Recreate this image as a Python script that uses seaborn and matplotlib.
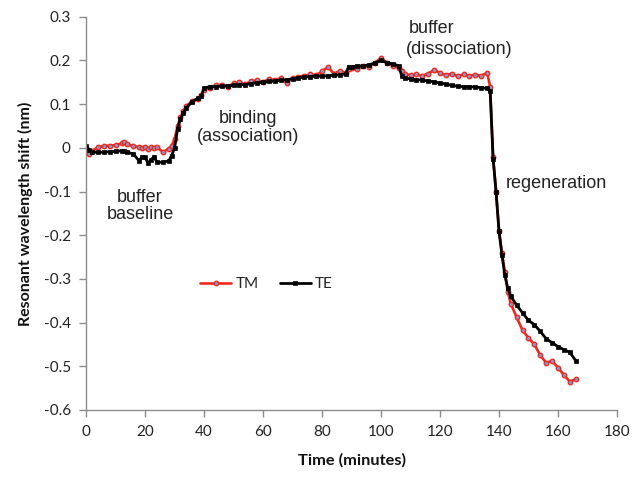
import matplotlib
matplotlib.use("Agg")
import matplotlib.pyplot as plt
import seaborn as sns
import pandas as pd
from matplotlib.ticker import FuncFormatter

time_min = [0, 1, 2, 4, 6, 8, 10, 12, 13, 14, 16, 18, 19, 20, 21, 22, 23, 24, 26, 28,
            29, 30, 31, 32, 33, 34, 36, 38, 39, 40, 42, 44, 46, 48, 50, 52, 54, 56, 58, 60,
            62, 64, 66, 68, 70, 72, 74, 76, 78, 80, 82, 84, 86, 88, 89, 90, 92, 94, 96, 98,
            100, 102, 104, 106, 107, 108, 110, 112, 114, 116, 118, 120, 122, 124, 126, 128, 130, 132, 134, 136,
            137, 138, 139, 140, 141, 142, 143, 144, 146, 148, 150, 152, 154, 156, 158, 160, 162, 164, 166]

te_shift = [0.005, -0.005, -0.010, -0.010, -0.010, -0.009, -0.008, -0.007, -0.008, -0.010,
            -0.014, -0.030, -0.020, -0.022, -0.035, -0.028, -0.020, -0.033, -0.033, -0.030,
            -0.018, 0.000, 0.043, 0.066, 0.080, 0.092, 0.106, 0.114, 0.118, 0.137,
            0.140, 0.140, 0.141, 0.142, 0.143, 0.144, 0.145, 0.147, 0.149, 0.150,
            0.152, 0.153, 0.155, 0.156, 0.158, 0.160, 0.162, 0.163, 0.164, 0.164,
            0.165, 0.166, 0.167, 0.169, 0.186, 0.186, 0.187, 0.188, 0.190, 0.195,
            0.200, 0.195, 0.192, 0.188, 0.165, 0.160, 0.158, 0.156, 0.155, 0.153,
            0.151, 0.148, 0.146, 0.143, 0.141, 0.140, 0.140, 0.139, 0.138, 0.136,
            0.130, -0.025, -0.100, -0.190, -0.245, -0.292, -0.322, -0.340, -0.360, -0.378,
            -0.395, -0.405, -0.420, -0.437, -0.446, -0.455, -0.462, -0.468, -0.487]

tm_shift = [0.000, -0.014, -0.008, 0.002, 0.004, 0.005, 0.006, 0.010, 0.013, 0.008,
            0.004, 0.002, 0.000, 0.003, -0.002, 0.002, 0.000, 0.003, -0.010, -0.002,
            0.005, 0.020, 0.050, 0.070, 0.085, 0.095, 0.108, 0.112, 0.122, 0.132,
            0.138, 0.143, 0.145, 0.140, 0.148, 0.150, 0.146, 0.152, 0.155, 0.150,
            0.158, 0.155, 0.160, 0.148, 0.160, 0.163, 0.165, 0.168, 0.166, 0.175,
            0.185, 0.170, 0.176, 0.172, 0.180, 0.183, 0.180, 0.188, 0.186, 0.195,
            0.206, 0.195, 0.188, 0.183, 0.175, 0.170, 0.166, 0.168, 0.165, 0.170,
            0.178, 0.172, 0.166, 0.170, 0.164, 0.168, 0.165, 0.167, 0.165, 0.172,
            0.140, -0.020, -0.100, -0.190, -0.240, -0.285, -0.330, -0.357, -0.388, -0.418,
            -0.435, -0.450, -0.475, -0.492, -0.488, -0.503, -0.520, -0.535, -0.530]

x_ticks = [0, 20, 40, 60, 80, 100, 120, 140, 160, 180]
y_ticks = [-0.6, -0.5, -0.4, -0.3, -0.2, -0.1, 0, 0.1, 0.2, 0.3]

sns.set_theme(style="white")
plt.rcParams['font.family'] = ['Lato', 'DejaVu Sans']

df_tm = pd.DataFrame({"t": time_min, "v": tm_shift})
df_te = pd.DataFrame({"t": time_min, "v": te_shift})

fig = plt.figure(figsize=(6.38, 4.8), dpi=100)
ax = fig.add_axes([0.135, 0.146, 0.832, 0.819])

sns.lineplot(data=df_tm, x="t", y="v", ax=ax, color="#f0281e", linewidth=1.9,
             marker="o", markersize=3.2, markerfacecolor="#7f9ccc",
             markeredgecolor="#f0281e", markeredgewidth=1.0, label="TM")
sns.lineplot(data=df_te, x="t", y="v", ax=ax, color="black", linewidth=2.0,
             marker="s", markersize=3.0, markerfacecolor="black",
             markeredgecolor="black", markeredgewidth=0.5, label="TE")

ax.set_xlim(x_ticks[0], x_ticks[-1])
ax.set_ylim(y_ticks[0], y_ticks[-1])
ax.set_xticks(x_ticks)
ax.set_yticks(y_ticks)
ax.yaxis.set_major_formatter(FuncFormatter(lambda v, p: ("%g" % round(v, 1)).replace("\u2212", "-")))
ax.xaxis.set_major_formatter(FuncFormatter(lambda v, p: "%d" % v))

for s in ["top", "right"]:
    ax.spines[s].set_visible(False)
for s in ["left", "bottom"]:
    ax.spines[s].set_color("#8c8c8c")
    ax.spines[s].set_linewidth(1.0)
ax.tick_params(axis="both", which="major", direction="out", length=5, width=1,
               color="#8c8c8c", labelsize=11, labelcolor="#222222", pad=6, bottom=True, left=True)

ax.set_xlabel("Time (minutes)", fontsize=11.8, fontweight="bold", color="#111111", labelpad=10)
ax.set_ylabel("Resonant wavelength shift (nm)", fontsize=11.5, fontweight="bold", color="#111111", labelpad=8)

txt_kw = dict(fontsize=13, color="#222222", family=["Liberation Sans", "DejaVu Sans"])
ax.text(18.3, -0.133, "buffer\nbaseline", ha="center", va="center", linespacing=1.05, **txt_kw)
ax.text(54.9, 0.047, "binding\n(association)", ha="center", va="center", linespacing=1.05, **txt_kw)
ax.text(117.2, 0.273, "buffer", ha="center", va="center", **txt_kw)
ax.text(126.4, 0.225, "(dissociation)", ha="center", va="center", **txt_kw)
ax.text(142.4, -0.082, "regeneration", ha="left", va="center", **txt_kw)

ax.legend(loc="center", bbox_to_anchor=(0.418, 0.408), bbox_transform=fig.transFigure,
          ncol=2, frameon=False, fontsize=11, handlelength=2.0, columnspacing=1.4,
          handletextpad=0.3, markerscale=1.0)

fig.savefig("out.png", dpi=100)
